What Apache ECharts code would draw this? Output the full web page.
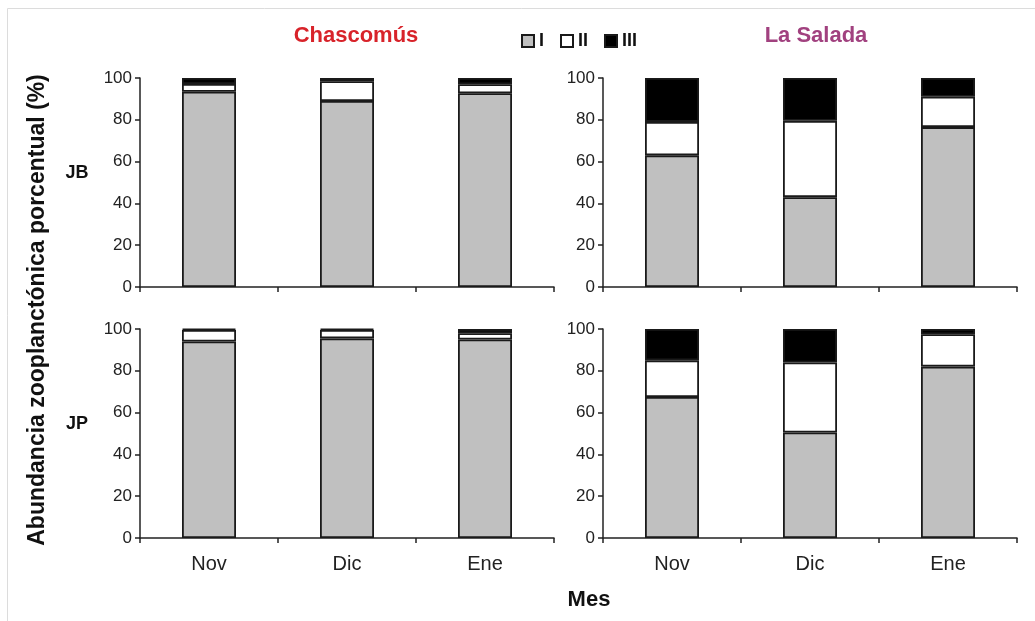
<!DOCTYPE html>
<html>
<head>
<meta charset="utf-8">
<script src="https://cdn.jsdelivr.net/npm/echarts@6/dist/echarts.min.js"></script>
<style>
  html, body { margin: 0; padding: 0; background: #fff; }
  #chart { width: 1035px; height: 621px; }
</style>
</head>
<body>
<div id="chart"></div>
<script>
// Months sampled
const categories = ['Nov', 'Dic', 'Ene'];
const yTicks = [0, 20, 40, 60, 80, 100];

// Percent abundance per size class (I, II, III) — Chascomús, JB
const chasJB_I = [93.4, 89, 92.7];
const chasJB_II = [3.7, 9.5, 4.3];
const chasJB_III = [2.9, 1.5, 3];

// La Salada, JB
const salJB_I = [63, 43, 76.5];
const salJB_II = [16, 36.5, 14.5];
const salJB_III = [21, 20.5, 9];

// Chascomús, JP
const chasJP_I = [94, 95.5, 95];
const chasJP_II = [5.5, 4, 3];
const chasJP_III = [0.5, 0.5, 2];

// La Salada, JP
const salJP_I = [67.5, 50.5, 82];
const salJP_II = [17.5, 33.5, 15.5];
const salJP_III = [15, 16, 2.5];

const classNames = ['I', 'II', 'III'];
const classColors = ['#c0c0c0', '#ffffff', '#000000'];

const FONT = "'Liberation Sans', Arial, sans-serif";
const INK = '#1a1a1a';

const panels = [
  { left: 140, top: 78, showLabels: false, data: [chasJB_I, chasJB_II, chasJB_III] },
  { left: 603, top: 78, showLabels: false, data: [salJB_I, salJB_II, salJB_III] },
  { left: 140, top: 329, showLabels: true, data: [chasJP_I, chasJP_II, chasJP_III] },
  { left: 603, top: 329, showLabels: true, data: [salJP_I, salJP_II, salJP_III] }
];

const grids = [], xAxes = [], yAxes = [], series = [];
panels.forEach((p, i) => {
  grids.push({ left: p.left, top: p.top, width: 414, height: 209, containLabel: false });
  xAxes.push({
    type: 'category', gridIndex: i, data: categories,
    axisLine: { show: true, lineStyle: { color: '#222', width: 1.5 } },
    axisTick: { show: true, length: 5, alignWithLabel: false, lineStyle: { color: '#222', width: 1.5 } },
    axisLabel: { show: p.showLabels, fontSize: 20, color: '#222', fontFamily: FONT, margin: 16 },
    splitLine: { show: false }
  });
  yAxes.push({
    type: 'value', gridIndex: i, min: yTicks[0], max: yTicks[yTicks.length - 1], interval: 20,
    axisLine: { show: true, lineStyle: { color: '#222', width: 1.5 } },
    axisTick: { show: true, length: 5, lineStyle: { color: '#222', width: 1.5 } },
    axisLabel: { fontSize: 17, color: '#222', fontFamily: FONT, margin: 8 },
    splitLine: { show: false }
  });
  p.data.forEach((vals, k) => {
    series.push({
      name: classNames[k], type: 'bar', stack: 'panel' + i,
      xAxisIndex: i, yAxisIndex: i, barWidth: 54, data: vals,
      itemStyle: { color: classColors[k], borderColor: INK, borderWidth: 1.8 },
      emphasis: { disabled: true }, animation: false
    });
  });
});

const chart = echarts.init(document.getElementById('chart'), null, { renderer: 'canvas' });
chart.setOption({
  backgroundColor: '#ffffff',
  animation: false,
  textStyle: { fontFamily: FONT },
  title: [
    { text: 'Chascomús', left: 351, top: 20, textAlign: 'center',
      textStyle: { fontSize: 22, fontWeight: 'bold', color: '#d8232a', fontFamily: FONT } },
    { text: 'La Salada', left: 811, top: 20, textAlign: 'center',
      textStyle: { fontSize: 22, fontWeight: 'bold', color: '#a1417f', fontFamily: FONT } }
  ],
  legend: {
    data: classNames, left: 521, top: 32, icon: 'rect', padding: 0,
    itemWidth: 12, itemHeight: 12, itemGap: 16,
    textStyle: { fontSize: 18, fontWeight: 'bold', color: '#111', fontFamily: FONT }
  },
  grid: grids,
  xAxis: xAxes,
  yAxis: yAxes,
  series: series,
  graphic: [
    { type: 'rect', left: 5, top: 6, silent: true,
      shape: { width: 1040, height: 640 },
      style: { fill: 'none', stroke: '#dcdcdc', lineWidth: 1 } },
    { type: 'text', x: 38, y: 310, rotation: Math.PI / 2, silent: true,
      style: { text: 'Abundancia zooplanctónica porcentual (%)',
               fill: '#111', font: 'bold 23px ' + FONT, align: 'center', verticalAlign: 'middle' } },
    { type: 'text', x: 77, y: 173, silent: true,
      style: { text: 'JB', font: 'bold 18px ' + FONT, fill: '#111', align: 'center', verticalAlign: 'middle' } },
    { type: 'text', x: 77, y: 424, silent: true,
      style: { text: 'JP', font: 'bold 18px ' + FONT, fill: '#111', align: 'center', verticalAlign: 'middle' } },
    { type: 'text', x: 589, y: 600, silent: true,
      style: { text: 'Mes', font: 'bold 22px ' + FONT, fill: '#111', align: 'center', verticalAlign: 'middle' } }
  ]
});
</script>
</body>
</html>
